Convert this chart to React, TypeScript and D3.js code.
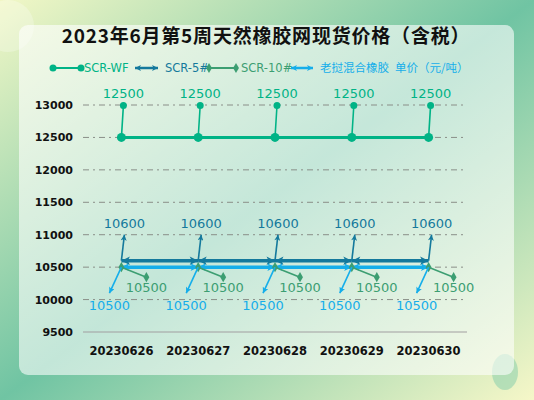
import * as d3 from "d3";

const W = 534;
const H = 400;

const dates = ["20230626", "20230627", "20230628", "20230629", "20230630"];
const scrWf = [12500, 12500, 12500, 12500, 12500];
const scr5 = [10600, 10600, 10600, 10600, 10600];
const scr10 = [10500, 10500, 10500, 10500, 10500];
const laos = [10500, 10500, 10500, 10500, 10500];
const yTicks = [9500, 10000, 10500, 11000, 11500, 12000, 12500, 13000];

const C_WF = "#00b386";
const C_5 = "#14799c";
const C_10 = "#3c9e72";
const C_LAOS = "#15aeea";
const NUM_FONT = "'DejaVu Sans', 'Noto Sans CJK SC', sans-serif";
const CJK_FONT = "'Noto Sans CJK SC', sans-serif";

export default function App() {
  const x = d3.scaleBand<string>().domain(dates).range([83, 467]);
  const cx = (d: string) => (x(d) ?? 0) + x.bandwidth() / 2;
  const y = d3.scaleLinear().domain([9500, 13000]).range([332, 105]);

  const line = d3
    .line<number>()
    .x((_, i) => cx(dates[i]))
    .y((v) => y(v));

  // pairs of consecutive points -> segments with arrow heads on both ends
  const segs = (vals: number[]) => d3.pairs(vals.map((v, i) => [cx(dates[i]), y(v)] as [number, number]));

  const diamond = d3.symbol().type(d3.symbolDiamond);

  return (
    <svg width={W} height={H} style={{ position: "absolute", left: 0, top: 0 }}>
      <defs>
        <linearGradient id="bg" x1="0" y1="0" x2="1" y2="1">
          <stop offset="0" stopColor="#f2f7c6" />
          <stop offset="0.5" stopColor="#70c4a3" />
          <stop offset="1" stopColor="#f6f7c8" />
        </linearGradient>
        <linearGradient id="panel" x1="0" y1="0" x2="0" y2="1">
          <stop offset="0" stopColor="#ffffff" stopOpacity="0.6" />
          <stop offset="1" stopColor="#ffffff" stopOpacity="0.58" />
        </linearGradient>
        {[
          ["a5", C_5, 10],
          ["aL", C_LAOS, 9],
          ["s5", C_5, 7],
          ["sL", C_LAOS, 7],
        ].map(([id, c, s]) => (
          <marker
            key={id as string}
            id={id as string}
            viewBox="0 0 10 10"
            refX="10"
            refY="5"
            markerWidth={s as number}
            markerHeight={(s as number) * 0.85}
            markerUnits="userSpaceOnUse"
            orient="auto-start-reverse"
          >
            <path d="M0,0 L10,5 L0,10 L2.5,5 z" fill={c as string} />
          </marker>
        ))}
      </defs>

      <rect width={W} height={H} fill="url(#bg)" />
      <circle cx={8} cy={26} r={26} fill="#ffffff" opacity={0.25} />
      <ellipse cx={505} cy={372} rx={13} ry={18} fill="#7fcbaa" opacity={0.5} />
      <rect x={19} y={25} width={495} height={350} rx={9} fill="url(#panel)" />

      <text
        x={266}
        y={43}
        textAnchor="middle"
        fontFamily={CJK_FONT}
        fontWeight="bold"
        fontSize={19}
        letterSpacing={0.8}
        fill="#111"
      >
        2023年6月第5周天然橡胶网现货价格（含税）
      </text>

      {/* legend */}
      <g fontFamily={NUM_FONT} fontSize={11.5}>
        <line x1={53} x2={81} y1={68} y2={68} stroke={C_WF} strokeWidth={2} />
        <circle cx={53} cy={68} r={3.5} fill={C_WF} />
        <circle cx={81} cy={68} r={3.5} fill={C_WF} />
        <text x={84} y={72} fill={C_WF}>SCR-WF</text>
        <line x1={135} x2={158} y1={68} y2={68} stroke={C_5} strokeWidth={2.5} markerStart="url(#s5)" markerEnd="url(#s5)" />
        <text x={165} y={72} fill={C_5}>SCR-5#</text>
        <line x1={209} x2={236} y1={68} y2={68} stroke={C_10} strokeWidth={2} />
        <path d={diamond.size(30)() ?? ""} transform="translate(209,68)" fill={C_10} />
        <path d={diamond.size(30)() ?? ""} transform="translate(236,68)" fill={C_10} />
        <text x={241} y={72} fill={C_10}>SCR-10#</text>
        <line x1={291} x2={313} y1={68} y2={68} stroke={C_LAOS} strokeWidth={2.5} markerStart="url(#sL)" markerEnd="url(#sL)" />
        <text x={320} y={72} fill={C_LAOS} fontFamily={CJK_FONT}>老挝混合橡胶</text>
        <text x={395} y={72} fill={C_LAOS} fontFamily={CJK_FONT}>单价（元/吨）</text>
      </g>

      {/* grid + y axis */}
      {yTicks.map((t) => (
        <g key={t}>
          <line
            x1={83}
            x2={467}
            y1={y(t)}
            y2={y(t)}
            stroke={t === 9500 ? "#a19ea0" : "#8a8e88"}
            strokeWidth={1}
            strokeDasharray={t === 9500 ? undefined : "6 4 2 4"}
          />
          <text x={73} y={y(t) + 4} textAnchor="end" fontFamily={NUM_FONT} fontWeight="bold" fontSize={11} fill="#111">
            {t}
          </text>
        </g>
      ))}
      {dates.map((d) => (
        <text key={d} x={cx(d)} y={355} textAnchor="middle" fontFamily={NUM_FONT} fontWeight="bold" fontSize={11.5} fill="#111">
          {d}
        </text>
      ))}

      {/* SCR-10# */}
      <path d={line(scr10) ?? ""} fill="none" stroke={C_10} strokeWidth={2} />
      {/* 老挝混合橡胶 */}
      {segs(laos).map(([a, b], i) => (
        <line key={i} x1={a[0]} y1={a[1]} x2={b[0]} y2={b[1]} stroke={C_LAOS} strokeWidth={3.5} markerStart="url(#aL)" markerEnd="url(#aL)" />
      ))}
      {/* SCR-5# */}
      {segs(scr5).map(([a, b], i) => (
        <line key={i} x1={a[0]} y1={a[1]} x2={b[0]} y2={b[1]} stroke={C_5} strokeWidth={3.5} markerStart="url(#a5)" markerEnd="url(#a5)" />
      ))}
      {/* SCR-WF */}
      <path d={line(scrWf) ?? ""} fill="none" stroke={C_WF} strokeWidth={3} />

      {/* labels + markers */}
      {dates.map((d, i) => {
        const px = cx(d);
        const wy = y(scrWf[i]);
        const y5 = y(scr5[i]);
        const y10 = y(scr10[i]);
        const yl = y(laos[i]);
        return (
          <g key={d} fontFamily={NUM_FONT} fontSize={13} textAnchor="middle">
            {/* WF */}
            <line x1={px} y1={wy} x2={px + 2} y2={wy - 32} stroke={C_WF} strokeWidth={1.6} />
            <circle cx={px} cy={wy} r={4.5} fill={C_WF} />
            <circle cx={px + 2} cy={wy - 32} r={3.5} fill={C_WF} />
            <text x={px + 2} y={wy - 39} fill={C_WF}>{scrWf[i]}</text>
            {/* SCR-5# */}
            <line x1={px} y1={y5} x2={px + 3} y2={y5 - 26} stroke={C_5} strokeWidth={1.6} markerEnd="url(#s5)" />
            <text x={px + 3} y={y5 - 33} fill={C_5}>{scr5[i]}</text>
            {/* SCR-10# */}
            <line x1={px} y1={y10} x2={px + 25} y2={y10 + 10} stroke={C_10} strokeWidth={1.6} />
            <path d={diamond.size(30)() ?? ""} transform={`translate(${px},${y10})`} fill={C_10} />
            <path d={diamond.size(30)() ?? ""} transform={`translate(${px + 25},${y10 + 10})`} fill={C_10} />
            <text x={px + 25} y={y10 + 25} fill={C_10}>{scr10[i]}</text>
            {/* 老挝 */}
            <line x1={px} y1={yl} x2={px - 12} y2={yl + 26} stroke={C_LAOS} strokeWidth={1.6} markerEnd="url(#sL)" />
            <text x={px - 12} y={yl + 43} fill={C_LAOS}>{laos[i]}</text>
          </g>
        );
      })}
    </svg>
  );
}
